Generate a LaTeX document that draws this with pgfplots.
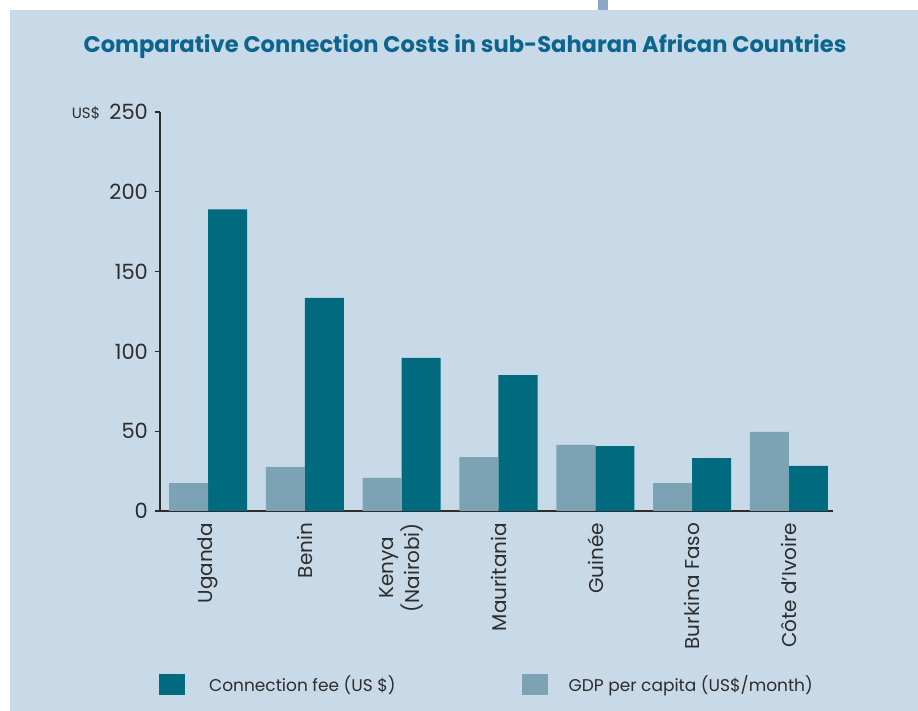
\documentclass[border=0pt]{standalone}
\usepackage{pgfplots}
\pgfplotsset{compat=1.18}
\usepackage{fontspec}
\setmainfont{Poppins}
\definecolor{bgblue}{RGB}{200,218,231}
\definecolor{darkteal}{RGB}{0,107,127}
\definecolor{lightteal}{RGB}{123,163,179}
\definecolor{titleblue}{RGB}{12,100,143}
\definecolor{tabblue}{RGB}{139,169,199}
\definecolor{txt}{RGB}{45,45,45}
\begin{document}
\begin{tikzpicture}
% pixel (px,py) -> ((px-160)*0.5pt, (511-py)*0.5pt)
\fill[white] (-80pt,255.5pt) rectangle (379pt,-100pt);
\useasboundingbox (-80pt,255.5pt) rectangle (379pt,-100pt);
\fill[bgblue] (-75pt,250.5pt) rectangle (379pt,-100pt);
\fill[tabblue] (219pt,255.5pt) rectangle (224pt,250.5pt);
\node[font=\fontsize{11.3}{13}\selectfont\bfseries, text=titleblue] at (152.5pt,232.5pt) {Comparative Connection Costs in sub-Saharan African Countries};
\node[font=\fontsize{7.5}{9}\selectfont, text=txt] at (-37pt,199pt) {US\$};
\begin{axis}[
  at={(0pt,0pt)}, anchor=south west,
  scale only axis, width=336.5pt, height=199.5pt,
  xmin=-0.496, xmax=6.455, ymin=0, ymax=250,
  axis x line=bottom, axis y line=left,
  axis line style={line width=0.8pt, color=txt, -},
  ytick={0,50,100,150,200,250},
  y tick style={line width=0.6pt, color=txt},
  tick align=outside, major tick length=2.5pt,
  xtick={0,1,2,3,4,5,6},
  major x tick style={draw=none},
  xticklabels={Uganda,Benin,{Kenya\\(Nairobi)},Mauritania,Guinée,Burkina Faso,Côte d'Ivoire},
  xticklabel style={rotate=90, anchor=east, align=center, font=\fontsize{10}{10.5}\selectfont, text=txt},
  yticklabel style={font=\fontsize{10.5}{12}\selectfont, text=txt},
  /pgf/number format/assume math mode=true,
  legend columns=2,
  legend style={at={(0.4874,-0.436)}, anchor=center, draw=none, fill=none,
    font=\fontsize{8.5}{10}\selectfont, text=txt,
    /tikz/every even column/.append style={column sep=61pt}},
  legend cell align=left,
  legend image code/.code={\fill[#1] (0pt,-5.25pt) rectangle (13pt,5.25pt);},
]
\addplot[ybar, bar width=0.403, bar shift=0.2015, fill=darkteal, draw=none] coordinates {(0,189) (1,133.5) (2,96) (3,85.2) (4,40.7) (5,33.2) (6,28.2)};
\addlegendentry{\hspace{10pt}Connection fee (US \$)}
\addplot[ybar, bar width=0.403, bar shift=-0.2015, fill=lightteal, draw=none] coordinates {(0,17.5) (1,27.6) (2,20.7) (3,33.8) (4,41.4) (5,17.5) (6,49.5)};
\addlegendentry{\hspace{8.5pt}GDP per capita (US\$/month)}
\end{axis}
\end{tikzpicture}
\end{document}
